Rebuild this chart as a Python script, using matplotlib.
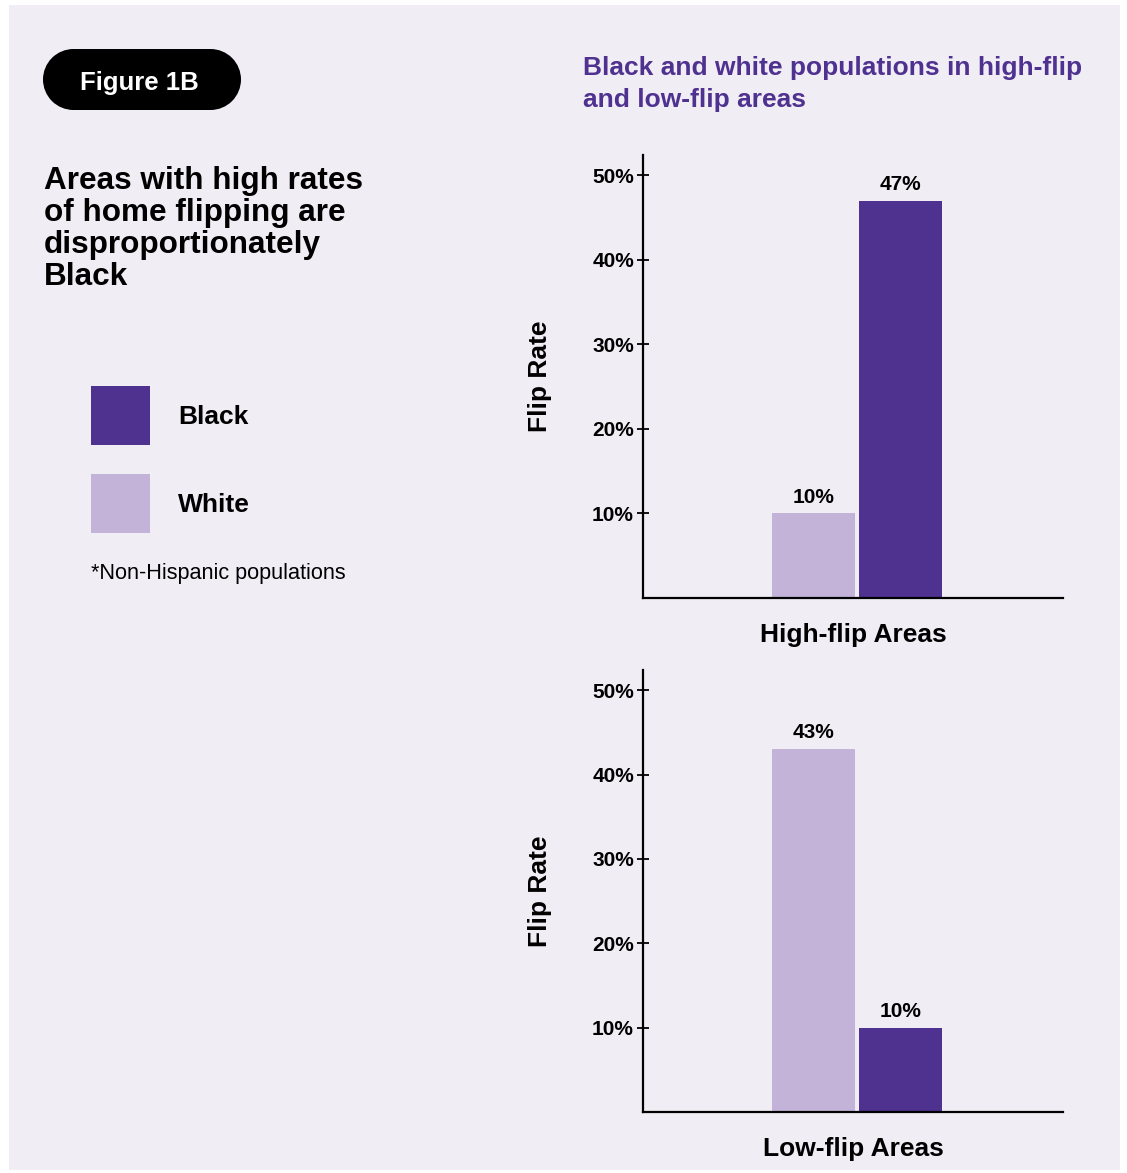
import matplotlib
matplotlib.use("Agg")
import matplotlib.pyplot as plt
from matplotlib.patches import Rectangle, Ellipse

plt.rcParams['font.family'] = ['Liberation Sans', 'DejaVu Sans']

# ---- data ----
groups = ["White", "Black"]
high_flip = [10, 47]
low_flip = [43, 10]
panel_titles = ["High-flip Areas", "Low-flip Areas"]
y_ticks = [10, 20, 30, 40, 50]
y_tick_labels = ["10%", "20%", "30%", "40%", "50%"]
legend_items = ["Black", "White"]
title_lines = ["Areas with high rates", "of home flipping are", "disproportionately", "Black"]
subtitle_lines = ["Black and white populations in high-flip", "and low-flip areas"]

DARK = "#4f318f"
LIGHT = "#c3b3d8"
BG = "#f0edf5"
colors = {"White": LIGHT, "Black": DARK}

W, H = 1127, 1173
fig = plt.figure(figsize=(W / 100, H / 100), dpi=100, facecolor="white")

# overlay axes in pixel coordinates (origin top-left)
bg = fig.add_axes([0, 0, 1, 1], zorder=-5)
bg.set_xlim(0, W)
bg.set_ylim(H, 0)
bg.axis("off")

bg.add_patch(Rectangle((9, 5), 1111, 1165, facecolor=BG, edgecolor="none"))
# pill badge
r = 30.5
bg.add_patch(Rectangle((43 + r, 49), 198 - 2 * r, 2 * r, facecolor="black", edgecolor="none"))
bg.add_patch(Ellipse((43 + r, 49 + r), 2 * r, 2 * r, facecolor="black", edgecolor="none"))
bg.add_patch(Ellipse((241 - r, 49 + r), 2 * r, 2 * r, facecolor="black", edgecolor="none"))
bg.text(139, 83, "Figure 1B", color="white", fontsize=18.5, fontweight="bold",
        ha="center", va="center")

for i, line in enumerate(title_lines):
    bg.text(44, 181 + 32 * i, line, fontsize=22.7, fontweight="bold",
            ha="left", va="center", color="black")

for i, g in enumerate(legend_items):
    top = 386 + 88 * i
    bg.add_patch(Rectangle((91, top), 59, 59, facecolor=colors[g], edgecolor="none"))
    bg.text(178, top + 31, g, fontsize=19, fontweight="bold", ha="left", va="center")
bg.text(91, 574, "*Non-Hispanic populations", fontsize=15.6, ha="left", va="center")

for i, line in enumerate(subtitle_lines):
    bg.text(583, 68 + 32 * i, line, fontsize=19, fontweight="bold",
            color=DARK, ha="left", va="center")


def make_axes(top_px, bottom_px, values, xlabel):
    ax = fig.add_axes([643 / W, 1 - bottom_px / H, (1063 - 643) / W, (bottom_px - top_px) / H])
    ax.set_facecolor("none")
    pos = [-0.5, 0.5]
    ax.bar(pos, values, width=0.95, color=[colors[g] for g in groups])
    for p, v in zip(pos, values):
        ax.annotate(f"{v}%", (p, v), xytext=(0, 5), textcoords="offset points",
                    ha="center", va="bottom", fontsize=15, fontweight="bold")
    ax.set_xlim(-2.46, 2.365)
    ax.set_ylim(0, 52.4)
    ax.set_yticks(y_ticks)
    ax.set_yticklabels(y_tick_labels, fontsize=15, fontweight="bold")
    ax.set_xticks([])
    ax.tick_params(axis="y", direction="inout", length=9, width=1.3, pad=2)
    for s in ["top", "right"]:
        ax.spines[s].set_visible(False)
    for s in ["left", "bottom"]:
        ax.spines[s].set_linewidth(1.6)
    ax.set_xlabel(xlabel, fontsize=19, fontweight="bold", labelpad=18)
    ax.set_ylabel("Flip Rate", fontsize=19, fontweight="bold")
    ax.yaxis.set_label_coords((552 - 643) / 420, 0.5)
    return ax


make_axes(155, 598, high_flip, panel_titles[0])
make_axes(670, 1112, low_flip, panel_titles[1])

fig.savefig("out.png", dpi=100, facecolor="white")
